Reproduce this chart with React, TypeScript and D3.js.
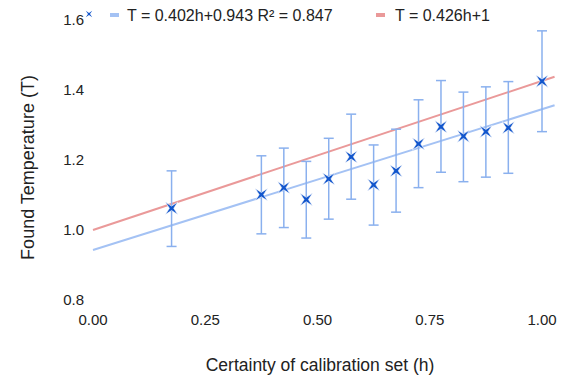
import React from "react";
import * as d3 from "d3";

const certainty = [0.175, 0.375, 0.425, 0.475, 0.525, 0.575, 0.625, 0.675, 0.725, 0.775, 0.825, 0.875, 0.925, 1.0];
const foundTemp = [1.062, 1.101, 1.121, 1.087, 1.146, 1.209, 1.129, 1.169, 1.246, 1.295, 1.268, 1.281, 1.292, 1.425];
const errUpper = [1.169, 1.212, 1.234, 1.196, 1.262, 1.331, 1.243, 1.288, 1.372, 1.427, 1.394, 1.409, 1.424, 1.569];
const errLower = [0.953, 0.989, 1.007, 0.977, 1.031, 1.088, 1.014, 1.051, 1.121, 1.165, 1.138, 1.151, 1.162, 1.281];
const xTicks = [0, 0.25, 0.5, 0.75, 1.0];
const yTicks = [0.8, 1.0, 1.2, 1.4, 1.6];
const fitSlope = 0.402, fitIntercept = 0.943;
const refSlope = 0.426, refIntercept = 1;
const lineExtent = [0, 1.028];

const W = 566, H = 376;
const FONT = "Arial, 'Liberation Sans', sans-serif";

export default function App() {
  const x = d3.scaleLinear().domain([0, 1]).range([93, 542]);
  const y = d3.scaleLinear().domain([0.8, 1.6]).range([300, 20]);
  const fitPath = d3.line<number>().x((h) => x(h)).y((h) => y(fitSlope * h + fitIntercept))(lineExtent);
  const refPath = d3.line<number>().x((h) => x(h)).y((h) => y(refSlope * h + refIntercept))(lineExtent);
  const s = 6.2, c = 2.2;
  const star = `M${-s},${-s}L0,${-c}L${s},${-s}L${c},0L${s},${s}L0,${c}L${-s},${s}L${-c},0Z`;
  const s2 = 3.2, c2 = 1;
  const starSmall = `M${-s2},${-s2}L0,${-c2}L${s2},${-s2}L${c2},0L${s2},${s2}L0,${c2}L${-s2},${s2}L${-c2},0Z`;
  return (
    <svg width={W} height={H} style={{ position: "absolute", left: 0, top: 0, background: "#fff" }} fontFamily={FONT}>
      {yTicks.map((t) => (
        <text key={t} x={84} y={y(t) + 5} fontSize={15} textAnchor="end" fill="#222">{t.toFixed(1)}</text>
      ))}
      {xTicks.map((t) => (
        <text key={t} x={x(t)} y={325} fontSize={15} textAnchor="middle" fill="#222">{t.toFixed(2)}</text>
      ))}
      <text x={320} y={371} fontSize={17.5} textAnchor="middle" fill="#222">Certainty of calibration set (h)</text>
      <text transform={`translate(34,167.5) rotate(-90)`} fontSize={18} textAnchor="middle" fill="#222">Found Temperature (T)</text>

      <path d={refPath || ""} stroke="#ea9999" strokeWidth={2} fill="none" />
      <path d={fitPath || ""} stroke="#a4c2f4" strokeWidth={2} fill="none" />

      {certainty.map((h, i) => (
        <g key={i} stroke="#8ab0ee" strokeWidth={1.5}>
          <line x1={x(h)} x2={x(h)} y1={y(errUpper[i])} y2={y(errLower[i])} />
          <line x1={x(h) - 5} x2={x(h) + 5} y1={y(errUpper[i])} y2={y(errUpper[i])} />
          <line x1={x(h) - 5} x2={x(h) + 5} y1={y(errLower[i])} y2={y(errLower[i])} />
        </g>
      ))}
      {certainty.map((h, i) => (
        <path key={i} d={star} transform={`translate(${x(h)},${y(foundTemp[i])})`} fill="#1155cc" stroke="#ffffff" strokeWidth={0.6} />
      ))}

      <path d={starSmall} transform="translate(89,14)" fill="#1155cc" />
      <rect x={110} y={13} width={9} height={4} fill="#a4c2f4" />
      <text x={127} y={21} fontSize={16} fill="#222">T = 0.402h+0.943 R² = 0.847</text>
      <rect x={376} y={13} width={9} height={4} fill="#ea9999" />
      <text x={395} y={21} fontSize={16} fill="#222">T = 0.426h+1</text>
    </svg>
  );
}
